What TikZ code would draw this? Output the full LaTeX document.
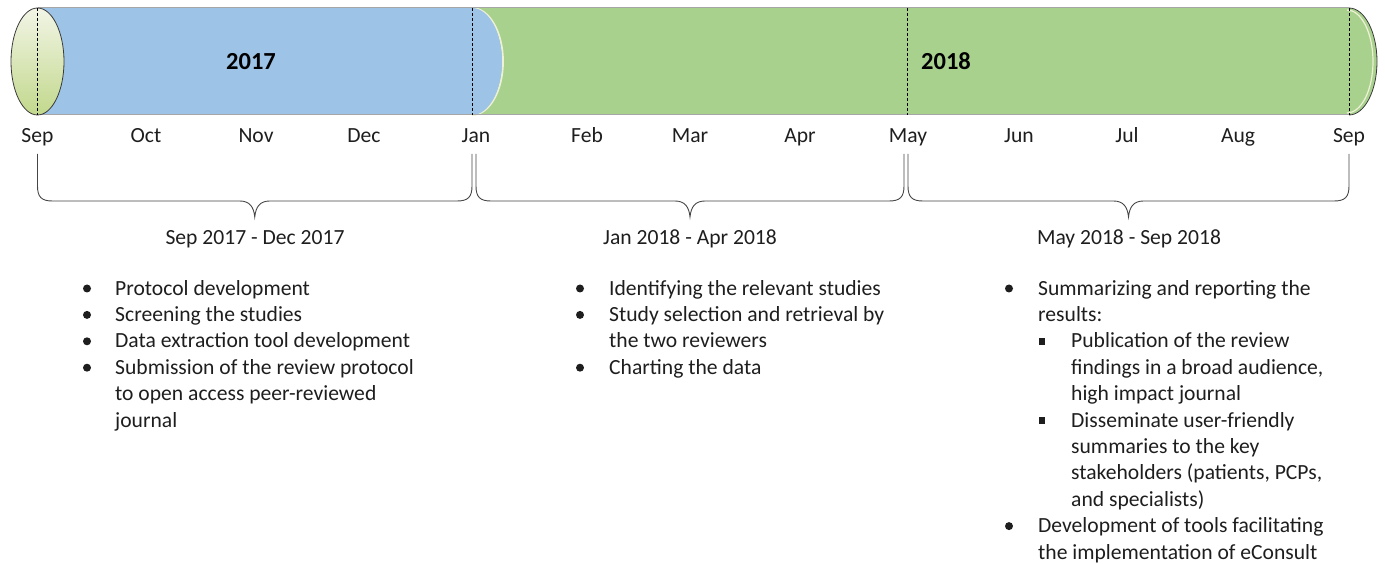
\documentclass[tikz,border=0pt]{standalone}
\usepackage{fontspec}
\setmainfont{Carlito}
\definecolor{blueA}{HTML}{9DC3E6}
\definecolor{greenA}{HTML}{A9D18E}
\definecolor{creamA}{HTML}{EEF1D6}
\definecolor{capTop}{HTML}{F2F5E6}
\definecolor{capBot}{HTML}{C2D88C}
\definecolor{edgeGray}{HTML}{A6A6A6}
\definecolor{darkEdge}{HTML}{3A3A3A}
\definecolor{braceGray}{HTML}{454545}
\definecolor{txt}{HTML}{1E1E1E}
\newcommand{\tlbrace}[2]{%
  \pgfmathsetmacro{\tipx}{(#1+#2)/2}%
  \draw[bracepath] (#1,154) -- (#1,186) .. controls (#1,197) and (#1+4,201) .. (#1+15,201)
    -- (\tipx-15,201) .. controls (\tipx-5,201) and (\tipx-1,207) .. (\tipx,217)
    .. controls (\tipx+1,207) and (\tipx+5,201) .. (\tipx+15,201)
    -- (#2-15,201) .. controls (#2-4,201) and (#2,197) .. (#2,186) -- (#2,154);}
\begin{document}
\begin{tikzpicture}[x=1pt,y=-1pt,
  month/.style={font=\fontsize{21.6}{26.4}\selectfont, anchor=base, inner sep=0pt, text=txt},
  yearlbl/.style={font=\fontsize{24.5}{29}\selectfont\bfseries, anchor=base, inner sep=0pt, text=black},
  itemtxt/.style={font=\fontsize{21.6}{26.4}\selectfont, anchor=north west, inner sep=0pt, align=left, text=txt},
  dotb/.style={circle, fill=txt, inner sep=0pt, minimum size=8pt},
  sqb/.style={rectangle, fill=txt, inner sep=0pt, minimum size=6.5pt},
  bracepath/.style={draw=braceGray, line width=0.9pt},
  divider/.style={draw=black, dash pattern=on 3pt off 2pt, line width=0.7pt}]
\useasboundingbox (0,0) rectangle (1385,564);
% green body
\fill[greenA] (472,8) -- (1349,8) arc[start angle=90,end angle=-90,x radius=28pt,y radius=53.5pt] -- (472,115) -- cycle;
\draw[creamA, line width=1.2pt] (1347,10) arc[start angle=90,end angle=-90,x radius=26pt,y radius=51.5pt];
\draw[darkEdge, line width=0.8pt] (1349,8) arc[start angle=90,end angle=-90,x radius=28pt,y radius=53.5pt];
% blue body
\draw[creamA, line width=1.8pt] (472,8) arc[start angle=90,end angle=-90,x radius=31pt,y radius=53.5pt];
\fill[blueA] (37.5,8) -- (472,8) arc[start angle=90,end angle=-90,x radius=30pt,y radius=53.5pt] -- (37.5,115) -- cycle;
% borders
\draw[edgeGray, line width=1pt] (37.5,8) -- (1349,8);
\draw[edgeGray, line width=1pt] (37.5,115) -- (1349,115);
% left cap
\shade[top color=capTop, bottom color=capBot] (37.5,61.5) ellipse [x radius=26.5pt, y radius=53.5pt];
\draw[darkEdge, line width=0.8pt] (37.5,61.5) ellipse [x radius=26.5pt, y radius=53.5pt];
% dividers
\foreach \xx in {37.5,472,907,1349} \draw[divider] (\xx,8) -- (\xx,115);
% years
\node[yearlbl] (y17) at (251,70) {2017};
\node[yearlbl] (y18) at (946,70) {2018};
% months
\node[month] (m1) at (37.5,143) {Sep};
\node[month] (m2) at (146,143) {Oct};
\node[month] (m3) at (256,143) {Nov};
\node[month] (m4) at (364,143) {Dec};
\node[month] (m5) at (476,143) {Jan};
\node[month] (m6) at (587,143) {Feb};
\node[month] (m7) at (690,143) {Mar};
\node[month] (m8) at (800,143) {Apr};
\node[month] (m9) at (908,143) {May};
\node[month] (m10) at (1019,143) {Jun};
\node[month] (m11) at (1127,143) {Jul};
\node[month] (m12) at (1238,143) {Aug};
\node[month] (m13) at (1349,143) {Sep};
% braces
\tlbrace{37.5}{472}
\tlbrace{476}{904}
\tlbrace{908}{1349}
% ranges
\node[month] (r1) at (255,245) {Sep 2017 - Dec 2017};
\node[month] (r2) at (690,245) {Jan 2018 - Apr 2018};
\node[month] (r3) at (1129,245) {May 2018 - Sep 2018};
% list 1
\node[dotb] (b11) at (87,288.5) {};
\node[itemtxt] (t11) at (115,276.5) {\strut Protocol development};
\node[dotb] (b12) at (87,314.9) {};
\node[itemtxt] (t12) at (115,302.9) {\strut Screening the studies};
\node[dotb] (b13) at (87,341.3) {};
\node[itemtxt] (t13) at (115,329.3) {\strut Data extraction tool development};
\node[dotb] (b14) at (87,367.7) {};
\node[itemtxt] (t14) at (115,355.7) {\strut Submission of the review protocol\\to open access peer-reviewed\\journal};
% list 2
\node[dotb] (b21) at (580,288.5) {};
\node[itemtxt] (t21) at (609,276.5) {\strut Identifying the relevant studies};
\node[dotb] (b22) at (580,314.9) {};
\node[itemtxt] (t22) at (609,302.9) {\strut Study selection and retrieval by\\the two reviewers};
\node[dotb] (b23) at (580,367.7) {};
\node[itemtxt] (t23) at (609,355.7) {\strut Charting the data};
% list 3
\node[dotb] (b31) at (1009,288.5) {};
\node[itemtxt] (t31) at (1038,276.5) {\strut Summarizing and reporting the\\results:};
\node[sqb] (s31) at (1042,341.3) {};
\node[itemtxt] (t32) at (1071,329.3) {\strut Publication of the review\\findings in a broad audience,\\high impact journal};
\node[sqb] (s32) at (1042,420.5) {};
\node[itemtxt] (t33) at (1071,408.5) {\strut Disseminate user-friendly\\summaries to the key\\stakeholders (patients, PCPs,\\and specialists)};
\node[dotb] (b32) at (1009,526.1) {};
\node[itemtxt] (t34) at (1038,514.1) {\strut Development of tools facilitating\\the implementation of eConsult};
\end{tikzpicture}
\end{document}
